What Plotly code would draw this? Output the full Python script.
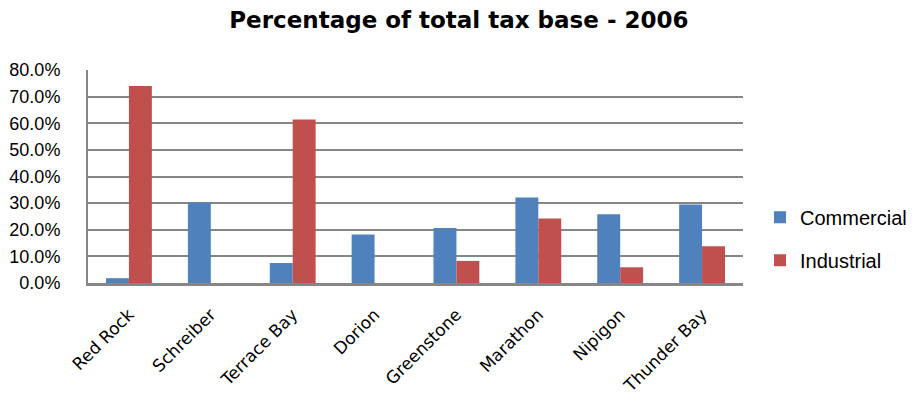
import plotly.graph_objects as go

categories = ["Red Rock", "Schreiber", "Terrace Bay", "Dorion", "Greenstone", "Marathon", "Nipigon", "Thunder Bay"]
commercial = [0.018, 0.302, 0.075, 0.182, 0.207, 0.321, 0.258, 0.295]
industrial = [0.740, 0.0, 0.614, 0.0, 0.083, 0.242, 0.059, 0.138]
y_ticks = [0, 0.1, 0.2, 0.3, 0.4, 0.5, 0.6, 0.7, 0.8]

arial = "'Liberation Sans', Arial, sans-serif"
tahoma = "'DejaVu Sans', Tahoma, sans-serif"

fig = go.Figure()
fig.add_trace(go.Bar(name="Commercial", x=categories, y=commercial, legendgroup="c",
                     marker=dict(color="#4F81BD", line=dict(width=0))))
fig.add_trace(go.Bar(name="Industrial", x=categories, y=industrial, legendgroup="i",
                     marker=dict(color="#C0504D", line=dict(width=0))))

fig.update_layout(
    width=909, height=397,
    paper_bgcolor="white", plot_bgcolor="white",
    margin=dict(l=80, r=174, t=62, b=122),
    barmode="group", bargap=0.44, bargroupgap=0,
    title=dict(text="<b>Percentage of total tax base - 2006</b>", x=0.496, xanchor="center",
               xref="container", y=0.97, yanchor="middle", yref="container",
               font=dict(family=tahoma, size=23, color="black")),
    legend=dict(x=0.8273, xanchor="left", xref="container",
                y=0.419, yanchor="middle", yref="container",
                font=dict(family=arial, size=20, color="black"),
                traceorder="grouped", tracegroupgap=14),
    font=dict(family=arial, color="black"),
)
fig.update_yaxes(range=[0, 0.8], tickvals=y_ticks, tickformat=".1%",
                 showgrid=True, gridcolor="#868686", gridwidth=2,
                 showline=True, linecolor="#868686", linewidth=2,
                 zeroline=False, ticks="", tickfont=dict(family=arial, size=18),
                 ticklabelstandoff=22, automargin=False)
fig.update_xaxes(showline=True, linecolor="#868686", linewidth=3, tickangle=-45,
                 ticks="", tickfont=dict(family=tahoma, size=17), ticklabelstandoff=12,
                 automargin=False)

fig.write_html("out.html")
